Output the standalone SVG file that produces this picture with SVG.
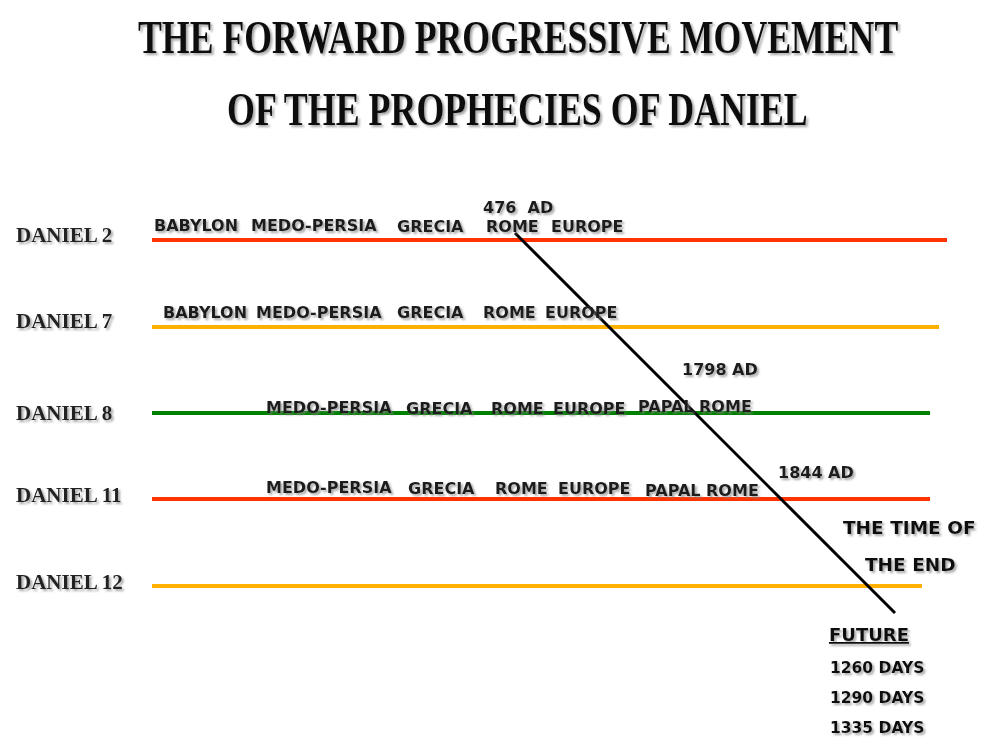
<svg xmlns="http://www.w3.org/2000/svg" width="1000" height="750" viewBox="0 0 1000 750">
<defs>
<filter id="sh" filterUnits="userSpaceOnUse" x="0" y="0" width="1000" height="750">
<feDropShadow dx="2" dy="2" stdDeviation="1" flood-color="#808080" flood-opacity="0.7"/>
</filter>
</defs>
<style>
.title{font-family:"Liberation Serif","DejaVu Serif",serif;font-weight:bold;font-size:46px;fill:#111}
.dan{font-family:"Liberation Serif","DejaVu Serif",serif;font-weight:bold;font-size:21px;fill:#222;filter:url(#sh)}
.lbl{font-family:"DejaVu Sans","Verdana",sans-serif;font-weight:bold;font-size:16px;fill:#1a1a1a;filter:url(#sh)}
.big{font-family:"DejaVu Sans","Verdana",sans-serif;font-weight:bold;font-size:18.5px;fill:#111;filter:url(#sh)}
.fut{font-family:"DejaVu Sans","Verdana",sans-serif;font-weight:bold;font-size:18px;fill:#111;filter:url(#sh)}
.days{font-family:"DejaVu Sans","Verdana",sans-serif;font-weight:bold;font-size:15.5px;fill:#111;filter:url(#sh)}
.tl{stroke-width:4;fill:none}
</style>
<rect width="1000" height="750" fill="#fff"/>
<g id="title" filter="url(#sh)">
<text class="title" transform="translate(138,53) scale(0.777,1)" x="0" y="0">THE FORWARD PROGRESSIVE MOVEMENT</text>
<text class="title" transform="translate(227,125) scale(0.78,1)" x="0" y="0">OF THE PROPHECIES OF DANIEL</text>
</g>
<g id="connectors">
<line class="tl" x1="152" y1="240" x2="947" y2="240" stroke="#FF3300"/>
<line class="tl" x1="152" y1="327" x2="939" y2="327" stroke="#FFB000"/>
<line class="tl" x1="152" y1="413" x2="930" y2="413" stroke="#008000"/>
<line class="tl" x1="152" y1="499" x2="930" y2="499" stroke="#FF3300"/>
<line class="tl" x1="152" y1="586" x2="922" y2="586" stroke="#FFB000"/>
<line x1="515" y1="233" x2="895" y2="613" stroke="#000" stroke-width="3"/>
</g>
<g id="daniel2">
<text class="dan" x="16" y="242">DANIEL 2</text>
<text class="lbl" x="154" y="231">BABYLON</text>
<text class="lbl" x="251" y="231">MEDO-PERSIA</text>
<text class="lbl" x="397" y="232">GRECIA</text>
<text class="lbl" x="486" y="232">ROME</text>
<text class="lbl" x="551" y="232">EUROPE</text>
<text class="lbl" x="483" y="213" xml:space="preserve">476  AD</text>
</g>
<g id="daniel7">
<text class="dan" x="16" y="328">DANIEL 7</text>
<text class="lbl" x="163" y="318">BABYLON</text>
<text class="lbl" x="256" y="318">MEDO-PERSIA</text>
<text class="lbl" x="397" y="318">GRECIA</text>
<text class="lbl" x="483" y="318">ROME</text>
<text class="lbl" x="545" y="318">EUROPE</text>
</g>
<g id="daniel8">
<text class="dan" x="16" y="420">DANIEL 8</text>
<text class="lbl" x="266" y="413">MEDO-PERSIA</text>
<text class="lbl" x="406" y="414">GRECIA</text>
<text class="lbl" x="491" y="414">ROME</text>
<text class="lbl" x="553" y="414">EUROPE</text>
<text class="lbl" x="638" y="412">PAPAL ROME</text>
<text class="lbl" x="682" y="375">1798 AD</text>
</g>
<g id="daniel11">
<text class="dan" x="16" y="502">DANIEL 11</text>
<text class="lbl" x="266" y="493">MEDO-PERSIA</text>
<text class="lbl" x="408" y="494">GRECIA</text>
<text class="lbl" x="495" y="494">ROME</text>
<text class="lbl" x="558" y="494">EUROPE</text>
<text class="lbl" x="645" y="496">PAPAL ROME</text>
<text class="lbl" x="778" y="478">1844 AD</text>
</g>
<g id="daniel12">
<text class="dan" x="16" y="589">DANIEL 12</text>
</g>
<g id="time-of-end">
<text class="big" x="843" y="534">THE TIME OF</text>
<text class="big" x="865" y="571">THE END</text>
</g>
<g id="future">
<text class="fut" x="829" y="641" text-decoration="underline">FUTURE</text>
<text class="days" x="830" y="673">1260 DAYS</text>
<text class="days" x="830" y="703">1290 DAYS</text>
<text class="days" x="830" y="733">1335 DAYS</text>
</g>
</svg>
